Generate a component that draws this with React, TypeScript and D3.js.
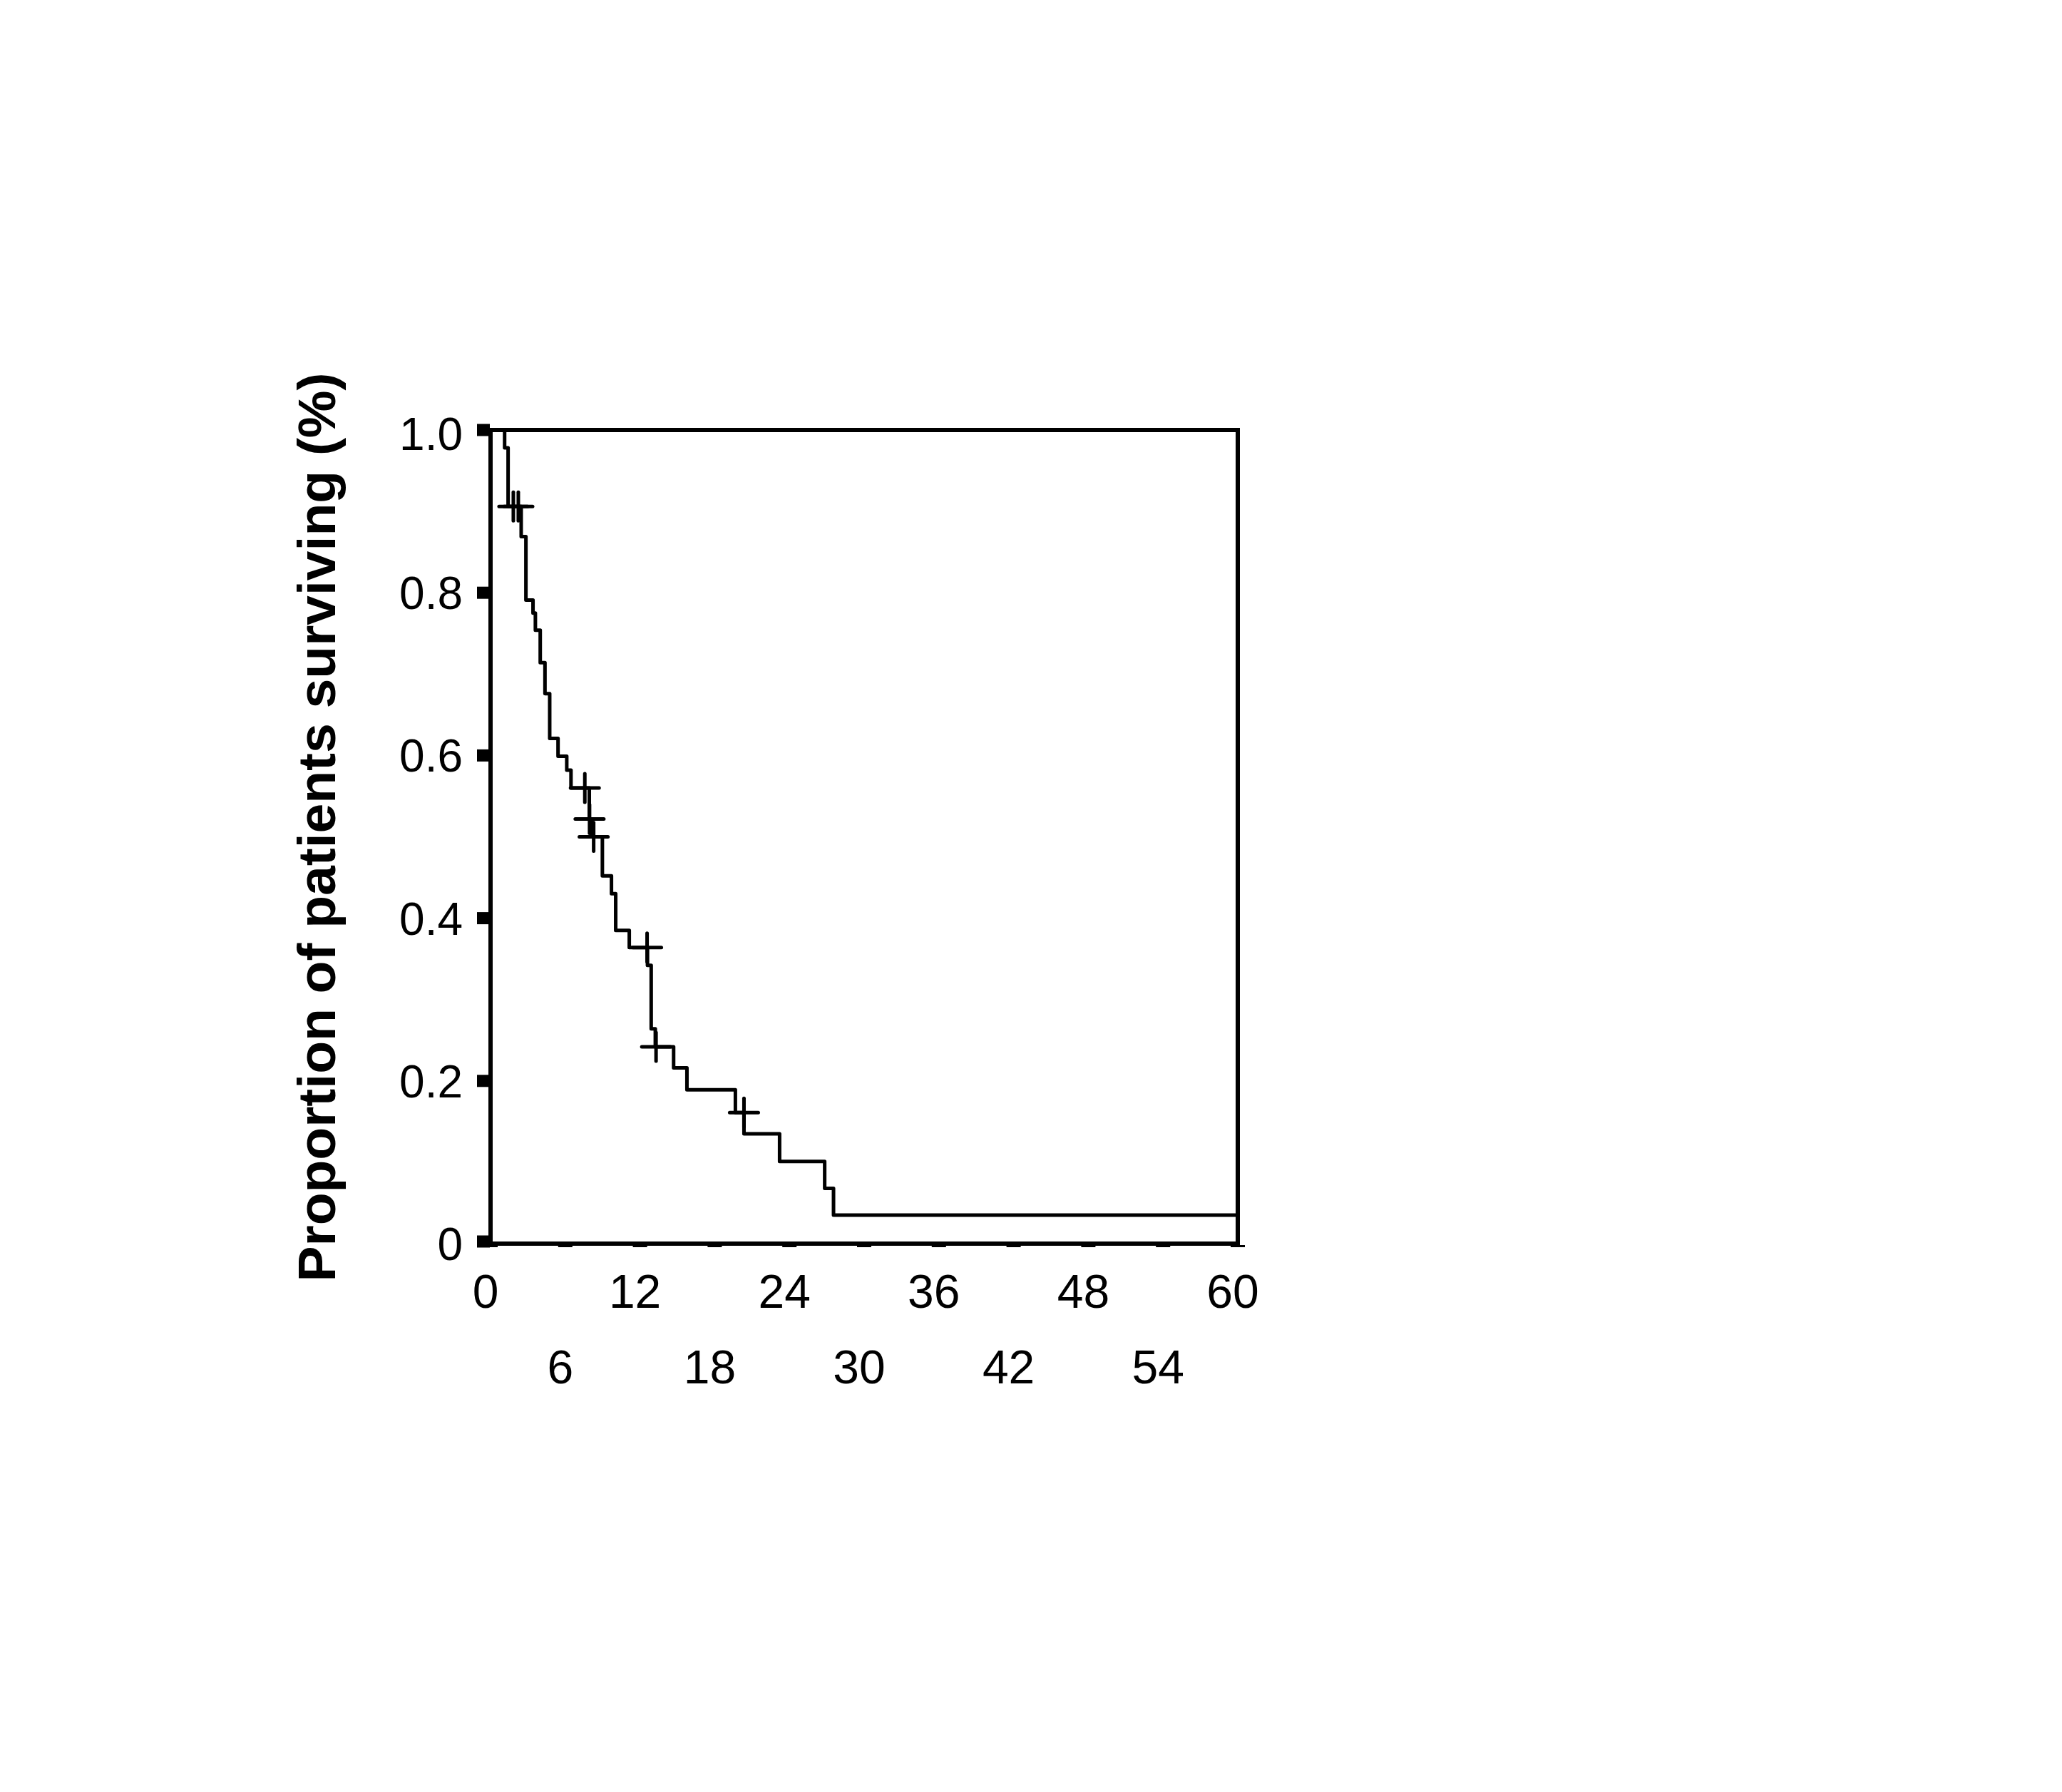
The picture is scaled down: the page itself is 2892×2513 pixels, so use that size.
import React from "react";
import * as d3 from "d3";

// Kaplan–Meier step curve (months, proportion surviving)
const stepTimes = [0, 1.13, 1.41, 2.46, 2.84, 3.41, 3.6, 3.99, 4.37, 4.75, 5.42, 6.12, 6.46, 7.93, 8.1, 8.98, 9.71, 10.05, 11.14, 12.6, 12.9, 13.23, 14.7, 15.77, 19.66, 20.35, 23.21, 26.83, 27.54, 60];
const stepSurvival = [1.0, 0.978, 0.906, 0.869, 0.791, 0.775, 0.754, 0.714, 0.676, 0.621, 0.599, 0.582, 0.56, 0.522, 0.5, 0.452, 0.43, 0.385, 0.364, 0.342, 0.264, 0.242, 0.216, 0.189, 0.161, 0.135, 0.101, 0.068, 0.035, 0.035];

// Censored observations
const censorTimes = [1.83, 2.23, 7.57, 7.95, 8.28, 12.57, 13.29, 20.35];
const censorSurvival = [0.906, 0.906, 0.56, 0.522, 0.5, 0.364, 0.242, 0.161];

const xTicksTop = [0, 12, 24, 36, 48, 60];
const xTicksBottom = [6, 18, 30, 42, 54];
const xTicksAll = [0, 6, 12, 18, 24, 30, 36, 42, 48, 54, 60];
const yTicks = [0, 0.2, 0.4, 0.6, 0.8, 1.0];
const yTickLabels = ["0", "0.2", "0.4", "0.6", "0.8", "1.0"];
const yTitle = "Proportion of patients surviving (%)";

const W = 2892;
const H = 2513;
const left = 688;
const right = 1736;
const top = 603;
const bottom = 1744;

export default function App() {
  const x = d3.scaleLinear().domain([0, 60]).range([left, right]);
  const y = d3.scaleLinear().domain([0, 1]).range([bottom, top]);

  const pts: [number, number][] = stepTimes.map((t, i) => [t, stepSurvival[i]]);
  const line = d3
    .line<[number, number]>()
    .x((d) => x(d[0]))
    .y((d) => y(d[1]))
    .curve(d3.curveStepAfter);

  const font = "'Liberation Sans', Arial, Helvetica, sans-serif";
  const cross = 20;

  return (
    <svg
      width={W}
      height={H}
      viewBox={`0 0 ${W} ${H}`}
      style={{ position: "absolute", left: 0, top: 0, background: "#fff" }}
    >
      <rect x={0} y={0} width={W} height={H} fill="#fff" />
      {/* curve */}
      <path d={line(pts) || ""} fill="none" stroke="#000" strokeWidth={5} strokeLinejoin="round" />
      {/* censor marks */}
      {censorTimes.map((t, i) => (
        <g key={i} stroke="#000" strokeWidth={5} strokeLinecap="round">
          <line x1={x(t) - cross} x2={x(t) + cross} y1={y(censorSurvival[i])} y2={y(censorSurvival[i])} />
          <line x1={x(t)} x2={x(t)} y1={y(censorSurvival[i]) - cross} y2={y(censorSurvival[i]) + cross} />
        </g>
      ))}
      {/* frame */}
      <rect x={left} y={top} width={right - left} height={bottom - top} fill="none" stroke="#000" strokeWidth={6} />
      {/* y ticks */}
      {yTicks.map((v, i) => (
        <g key={i}>
          <rect x={left - 19} y={y(v) - 8.5 - (v === 0 ? 3 : 0)} width={18} height={17} fill="#000" />
          <text
            x={649}
            y={y(v) + 23 + (v === 1 ? 5 : 0)}
            textAnchor="end"
            fontFamily={font}
            fontSize={64}
            fill="#000"
          >
            {yTickLabels[i]}
          </text>
        </g>
      ))}
      {/* x ticks */}
      {xTicksAll.map((v) => (
        <rect key={v} x={x(v) - 10} y={bottom + 2} width={20} height={3} fill="#000" />
      ))}
      {xTicksTop.map((v) => (
        <text key={"t" + v} x={x(v) - 7} y={1834} textAnchor="middle" fontFamily={font} fontSize={66} fill="#000">
          {v}
        </text>
      ))}
      {xTicksBottom.map((v) => (
        <text key={"b" + v} x={x(v) - 7} y={1940} textAnchor="middle" fontFamily={font} fontSize={66} fill="#000">
          {v}
        </text>
      ))}
      {/* y title */}
      <text
        transform={`translate(470, 1160) rotate(-90)`}
        textAnchor="middle"
        fontFamily={font}
        fontWeight="bold"
        fontSize={75}
        fill="#000"
      >
        {yTitle}
      </text>
    </svg>
  );
}
